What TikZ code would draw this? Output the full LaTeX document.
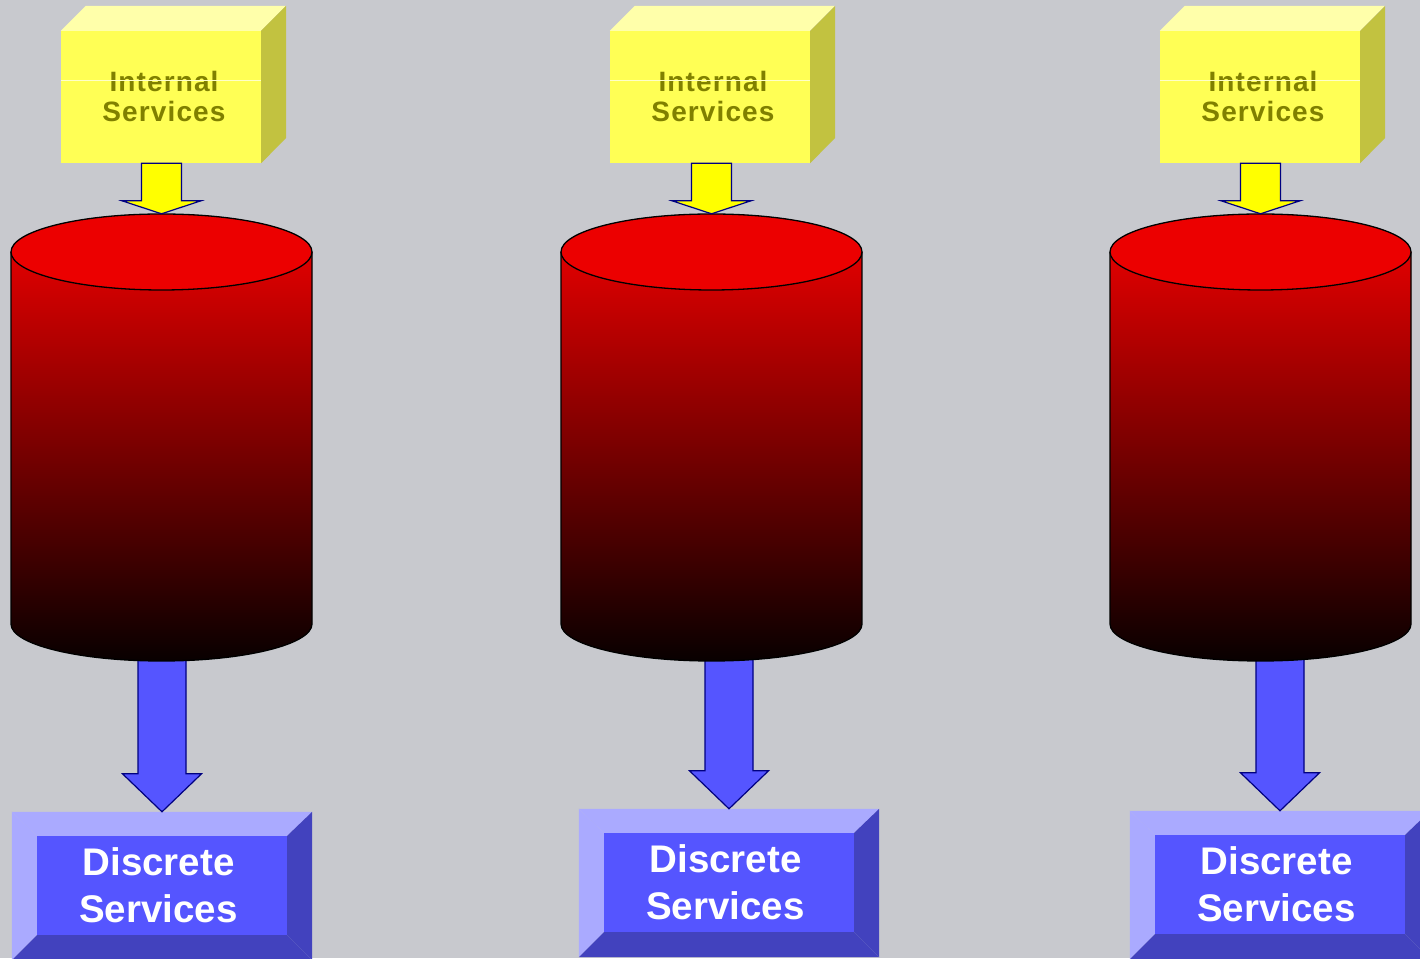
\documentclass[tikz,border=0pt]{standalone}
\usepackage{fontspec}
\setmainfont{Liberation Sans}
\newfontfamily\ysfont{Liberation Sans}[LetterSpace=4]
\usetikzlibrary{calc}
\definecolor{bgc}{RGB}{200,201,206}
\definecolor{yfront}{RGB}{255,255,85}
\definecolor{ytop}{RGB}{255,255,170}
\definecolor{yside}{RGB}{194,194,64}
\definecolor{yline}{RGB}{255,255,200}
\definecolor{olivetxt}{RGB}{128,128,0}
\definecolor{navyc}{RGB}{0,0,128}
\definecolor{arrowy}{RGB}{255,255,0}
\definecolor{bfront}{RGB}{85,85,255}
\definecolor{blight}{RGB}{170,170,255}
\definecolor{bdark}{RGB}{66,66,190}
\definecolor{cyltop}{RGB}{236,0,0}
\definecolor{cylhi}{RGB}{245,0,0}
\definecolor{cyllo}{RGB}{8,0,0}
\tikzset{
  ybox/.style={fill=yfront, minimum width=200pt, minimum height=132pt, inner sep=0pt,
    align=center, text=olivetxt, font=\ysfont\bfseries\fontsize{28}{30}\selectfont},
  cylbox/.style={minimum width=301pt, minimum height=447pt, inner sep=0pt},
  bbox/.style={fill=bfront, minimum width=250pt, minimum height=99pt, inner sep=0pt,
    align=center, text=white, font=\bfseries\fontsize{38.5}{47}\selectfont},
  yarrow/.style={fill=arrowy, draw=navyc, line width=1.2pt, line join=miter},
  barrow/.style={fill=bfront, draw=navyc, line width=1.2pt, line join=miter},
  cyledge/.style={draw=black, line width=1.3pt},
}
% from, to, half shaft, half head, head length, style
\newcommand\fatarrow[6]{%
  \path[#6] let \p1=(#1), \p2=(#2) in
    (\x2-#3pt,\y1) -- (\x2-#3pt,\y2+#5pt) -- (\x2-#4pt,\y2+#5pt) -- (\x2,\y2)
    -- (\x2+#4pt,\y2+#5pt) -- (\x2+#3pt,\y2+#5pt) -- (\x2+#3pt,\y1) -- cycle;}
% id, yellow cx, cylinder cx, box cx, box outer top Y
\newcommand\servcol[5]{%
  % yellow box
  \node[ybox] (y#1) at (#2,861) {\hspace*{6pt}Internal\\\hspace*{6pt}Services};
  \fill[ytop] (y#1.north west) -- ++(25,25) -- ++(200,0) -- (y#1.north east) -- cycle;
  \fill[yside] (y#1.north east) -- ++(25,25) -- ++(0,-132) -- (y#1.south east) -- cycle;
  \draw[yline, line width=1pt] ([yshift=16pt]y#1.west) -- ([yshift=16pt]y#1.east);
  % cylinder frame and blue box
  \node[cylbox] (c#1) at (#3,520.5) {};
  \node[bbox] (b#1) at (#4,{#5-73.5}) {Discrete\hspace*{7pt}\\Services\hspace*{7pt}};
  \coordinate (o#1) at ([yshift=24pt]b#1.north);
  \fill[blight] ([xshift=-25pt,yshift=24pt]b#1.north west) -- ([xshift=25pt,yshift=24pt]b#1.north east)
     -- (b#1.north east) -- (b#1.north west) -- cycle;
  \fill[blight] ([xshift=-25pt,yshift=24pt]b#1.north west) -- (b#1.north west)
     -- (b#1.south west) -- ([xshift=-25pt,yshift=-25pt]b#1.south west) -- cycle;
  \fill[bdark] ([xshift=25pt,yshift=24pt]b#1.north east) -- ([xshift=25pt,yshift=-25pt]b#1.south east)
     -- (b#1.south east) -- (b#1.north east) -- cycle;
  \fill[bdark] ([xshift=-25pt,yshift=-25pt]b#1.south west) -- (b#1.south west)
     -- (b#1.south east) -- ([xshift=25pt,yshift=-25pt]b#1.south east) -- cycle;
  % blue arrow (top hidden by cylinder)
  \fatarrow{[yshift=30pt]c#1.south -| o#1}{o#1}{24}{39.5}{38}{barrow}
  % cylinder body
  \shade[top color=cylhi, bottom color=cyllo]
     (#3-150.5,706) -- (#3-150.5,334) arc[start angle=180, end angle=360, x radius=150.5, y radius=37]
     -- (#3+150.5,706) arc[start angle=0, end angle=180, x radius=150.5, y radius=38] -- cycle;
  \draw[cyledge] (#3-150.5,706) -- (#3-150.5,334) arc[start angle=180, end angle=360, x radius=150.5, y radius=37]
     -- (#3+150.5,706);
  \filldraw[fill=cyltop, cyledge] (#3,706) ellipse[x radius=150.5, y radius=38];
  % yellow arrow
  \fatarrow{y#1.south}{c#1.north}{20}{39.5}{13}{yarrow}
}
\begin{document}
\begin{tikzpicture}[x=1pt,y=1pt]
  \useasboundingbox (0,0) rectangle (1420,958);
  \fill[bgc] (0,0) rectangle (1420,958);
  \clip (0,0) rectangle (1420,958);
  \servcol{1}{161}{161.5}{162}{146}
  \servcol{2}{710}{711.5}{729}{149}
  \servcol{3}{1260}{1260.5}{1280}{147}
\end{tikzpicture}
\end{document}
